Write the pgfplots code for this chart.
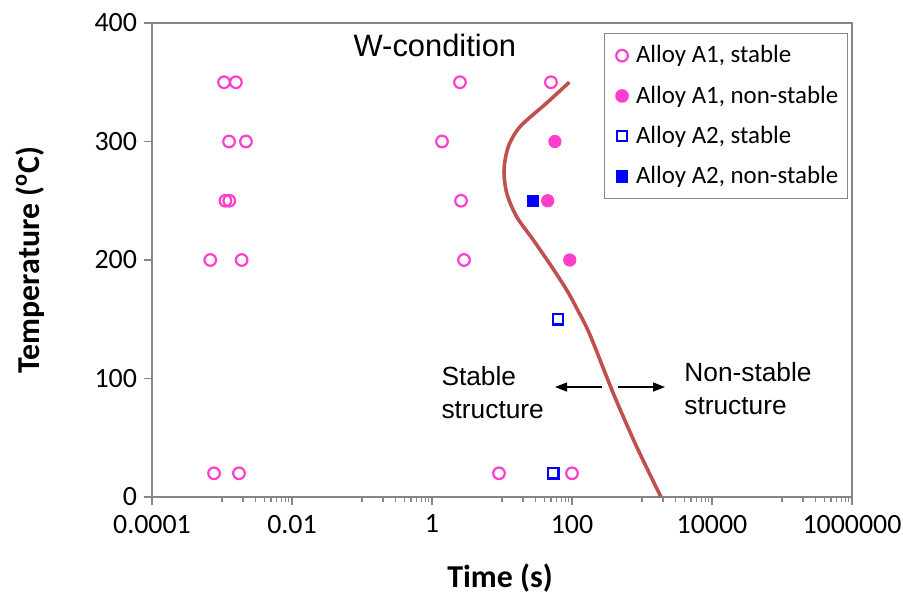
\documentclass[border=0pt]{standalone}
\usepackage{pgfplots}
\pgfplotsset{compat=1.18}
\usepackage{fontspec}
\setmainfont{Carlito}
\newfontfamily\arial{Liberation Sans}
\usetikzlibrary{arrows.meta}
\definecolor{mag}{RGB}{255,63,204}
\definecolor{blu}{RGB}{0,0,255}
\definecolor{crv}{RGB}{192,80,77}
\definecolor{axgray}{RGB}{134,134,134}
\begin{document}
\begin{tikzpicture}
\useasboundingbox (-76bp,-49.5bp) rectangle (375.5bp,248.5bp);
\begin{axis}[
  scale only axis, width=350bp, height=237bp,
  xmode=log, xmin=1e-4, xmax=1e6, ymin=0, ymax=400,
  axis line style={axgray, line width=0.8bp},
  xtick={1e-4,1e-2,1,1e2,1e4,1e6},
  xticklabels={0.0001,0.01,1,100,10000,1000000},
  minor xtick={1e-3,2e-3,3e-3,4e-3,5e-3,6e-3,7e-3,8e-3,9e-3,
    0.1,0.2,0.3,0.4,0.5,0.6,0.7,0.8,0.9,
    10,20,30,40,50,60,70,80,90,
    1000,2000,3000,4000,5000,6000,7000,8000,9000,
    1e5,2e5,3e5,4e5,5e5,6e5,7e5,8e5,9e5},
  ytick={0,100,200,300,400},
  tick align=outside, xtick pos=bottom, ytick pos=left,
  major tick length=4bp, minor tick length=2.5bp,
  tick style={axgray, line width=0.6bp},
  /pgf/number format/assume math mode=true,
  ticklabel style={font=\fontsize{14}{16}\selectfont, text=black},
  xticklabel style={yshift=-1.5bp},
  legend style={at={(rel axis cs:0.994,0.979)}, anchor=north east,
    draw=axgray, line width=0.6bp, font=\fontsize{12.5}{14}\selectfont,
    row sep=6bp, inner xsep=2.5bp, inner ysep=4bp},
  legend image code/.code={\path (0bp,0bp) (10.5bp,0bp); \draw[#1] plot coordinates {(5.8bp,0bp)};},
  legend cell align=left,
  clip=false,
]
\addplot[only marks, mark=o, mark size=2.9bp, mark options={draw=mag, line width=1.1bp}, color=mag] coordinates {
  (0.00107,350) (0.00158,350) (2.51,350) (50,350)
  (0.00126,300) (0.0022,300) (1.39,300)
  (0.00112,250) (0.00127,250) (2.6,250)
  (0.00068,200) (0.00191,200) (2.87,200)
  (0.00077,20) (0.00175,20) (9.06,20) (100,20)
};
\addlegendentry{Alloy A1, stable}
\addplot[only marks, mark=*, mark size=3.1bp, mark options={draw=mag, fill=mag}, color=mag] coordinates {
  (57,300) (45,250) (93,200)
};
\addlegendentry{Alloy A1, non-stable}
\addplot[only marks, mark=square, mark size=2.6bp, mark options={draw=blu, line width=1.1bp}, color=blu] coordinates {
  (63,150) (54,20)
};
\addlegendentry{Alloy A2, stable}
\addplot[only marks, mark=square*, mark size=2.9bp, mark options={draw=blu, fill=blu}, color=blu] coordinates {
  (27.7,250)
};
\addlegendentry{Alloy A2, non-stable}
\addplot[forget plot, no marks, smooth, crv, line width=1.8bp] coordinates {
  (91.5,350) (43.5,332.5) (18.1,312.5) (12.3,295.6) (10.7,276) (11.7,256.3)
  (16.2,236.5) (28,216.9) (51.3,194.3) (84,174.7) (117,159.2) (181,136.7)
  (389,87.5) (839,42.4) (1868,0)
};
\draw[-{Triangle[length=6bp,width=4.5bp]}, line width=0.6bp] (axis cs:265,92.8) -- (axis cs:57.2,92.8);
\draw[-{Triangle[length=6bp,width=4.5bp]}, line width=0.6bp] (axis cs:454,92.8) -- (axis cs:2131,92.8);
\node[font=\arial\fontsize{15.5}{17}\selectfont] at (axis cs:1.1,381) {W-condition};
\node[anchor=west, align=left, inner sep=0pt, font=\arial\fontsize{13.2}{16.5}\selectfont] at (axis cs:1.35,87.8) {Stable\\structure};
\node[anchor=west, align=left, inner sep=0pt, font=\arial\fontsize{13.2}{16.5}\selectfont] at (axis cs:3981,91.6) {Non-stable\\structure};
\end{axis}
\node[font=\bfseries\fontsize{16}{18}\selectfont] at (174bp,-40.5bp) {Time (s)};
\node[rotate=90, font=\bfseries\fontsize{16}{18}\selectfont] at (-61bp,118.5bp) {Temperature (\textsuperscript{o}C)};
\end{tikzpicture}
\end{document}
